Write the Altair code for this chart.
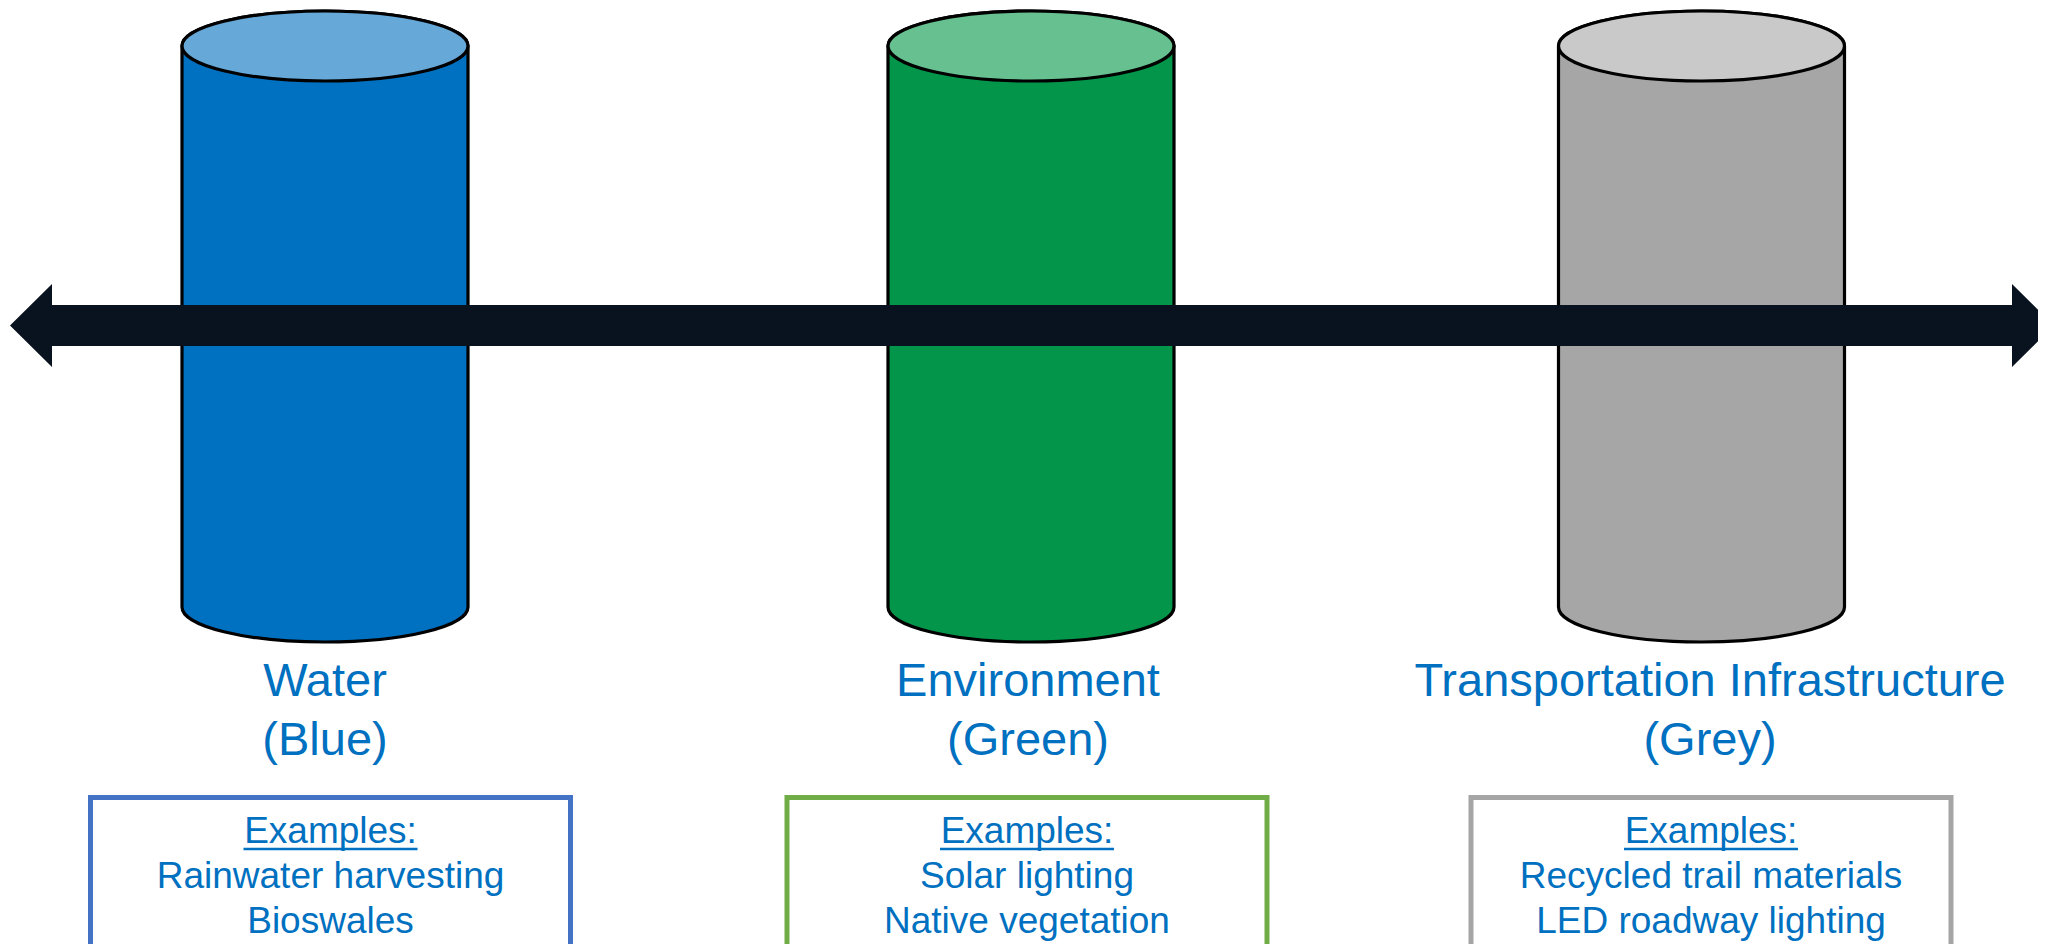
import altair as alt
import pandas as pd

# ---------------- content ----------------
categories = ["Water", "Environment", "Transportation Infrastructure"]
subtitles = ["(Blue)", "(Green)", "(Grey)"]
example_header = "Examples:"
examples_line1 = ["Rainwater harvesting", "Solar lighting", "Recycled trail materials"]
examples_line2 = ["Bioswales", "Native vegetation", "LED roadway lighting"]
body_colors = ["#0070C0", "#03964A", "#A6A6A6"]
top_colors = ["#66A8D8", "#66C08F", "#C9C9C9"]
border_colors = ["#4472C4", "#70AD47", "#A5A5A5"]
TEXT_COLOR = "#0070C0"
ARROW_COLOR = "#09131F"
FONT = "Liberation Sans"

# ---------------- layout (page pixel coordinates) ----------------
OX, OY = 8, 8
W, H = 2030, 936
cyl_x = [325, 1031, 1701.5]
label_x = [325, 1028, 1710]
box_x = [330.5, 1027, 1711]
CYL_TOP, CYL_BOT = 46, 607      # ellipse centre lines
CYL_RX, CYL_RY = 143, 35
ARROW_L, ARROW_R = 10, 2054
ARROW_Y, SHAFT_H, HEAD_H, HEAD_W = 325.5, 41, 83, 42
TITLE_Y1, TITLE_Y2 = 696, 755
BOX_HALF_W, BOX_TOP, BOX_BOTTOM = 240, 797.5, 1000
EX_Y = [843, 888, 933]
UNDERLINE_Y, UNDERLINE_HALF = 849, 87

xs = alt.Scale(domain=[OX, OX + W], nice=False, zero=False)
ys = alt.Scale(domain=[OY, OY + H], nice=False, zero=False, reverse=True)
X = lambda f: alt.X(f, type="quantitative", scale=xs, axis=None)
Y = lambda f: alt.Y(f, type="quantitative", scale=ys, axis=None)


def fmt(v):
    return f"{v:.5f}"


K = 0.5523


def ellipse(cx, cy, a, b):
    p = [
        f"M{fmt(cx-a)},{fmt(cy)}",
        f"C{fmt(cx-a)},{fmt(cy-K*b)} {fmt(cx-K*a)},{fmt(cy-b)} {fmt(cx)},{fmt(cy-b)}",
        f"C{fmt(cx+K*a)},{fmt(cy-b)} {fmt(cx+a)},{fmt(cy-K*b)} {fmt(cx+a)},{fmt(cy)}",
        f"C{fmt(cx+a)},{fmt(cy+K*b)} {fmt(cx+K*a)},{fmt(cy+b)} {fmt(cx)},{fmt(cy+b)}",
        f"C{fmt(cx-K*a)},{fmt(cy+b)} {fmt(cx-a)},{fmt(cy+K*b)} {fmt(cx-a)},{fmt(cy)} Z",
    ]
    return " ".join(p)


def body(a, hh, b):
    p = [
        f"M{fmt(-a)},{fmt(-hh)}",
        f"L{fmt(-a)},{fmt(hh)}",
        f"C{fmt(-a)},{fmt(hh+K*b)} {fmt(-K*a)},{fmt(hh+b)} 0,{fmt(hh+b)}",
        f"C{fmt(K*a)},{fmt(hh+b)} {fmt(a)},{fmt(hh+K*b)} {fmt(a)},{fmt(hh)}",
        f"L{fmt(a)},{fmt(-hh)}",
        f"C{fmt(a)},{fmt(-hh-K*b)} {fmt(K*a)},{fmt(-hh-b)} 0,{fmt(-hh-b)}",
        f"C{fmt(-K*a)},{fmt(-hh-b)} {fmt(-a)},{fmt(-hh-K*b)} {fmt(-a)},{fmt(-hh)} Z",
    ]
    return " ".join(p)


# cylinder symbol geometry (unit = S px)
S = 320.0
half_h = (CYL_BOT - CYL_TOP) / 2
cyl_cy = (CYL_BOT + CYL_TOP) / 2
body_path = body(CYL_RX / S, half_h / S, CYL_RY / S)
top_path = ellipse(0, -half_h / S, CYL_RX / S, CYL_RY / S)
cyl_size = (2 * S) ** 2

# arrow symbol geometry
SA = 1040.0
acx = (ARROW_L + ARROW_R) / 2
hl = (ARROW_R - ARROW_L) / 2
pts = [
    (-hl, 0), (-hl + HEAD_W, -HEAD_H / 2), (-hl + HEAD_W, -SHAFT_H / 2),
    (hl - HEAD_W, -SHAFT_H / 2), (hl - HEAD_W, -HEAD_H / 2), (hl, 0),
    (hl - HEAD_W, HEAD_H / 2), (hl - HEAD_W, SHAFT_H / 2),
    (-hl + HEAD_W, SHAFT_H / 2), (-hl + HEAD_W, HEAD_H / 2),
]
arrow_path = "M" + " L".join(f"{fmt(px/SA)},{fmt(py/SA)}" for px, py in pts) + " Z"
arrow_size = (2 * SA) ** 2

# ---------------- tables ----------------
cyl_df = pd.DataFrame({"cx": cyl_x, "cy": [cyl_cy] * 3, "body": body_colors, "top": top_colors})
arrow_df = pd.DataFrame({"cx": [acx], "cy": [ARROW_Y]})

title_rows = []
for i in range(3):
    title_rows.append({"x": label_x[i], "y": TITLE_Y1, "t": categories[i]})
    title_rows.append({"x": label_x[i], "y": TITLE_Y2, "t": subtitles[i]})
title_df = pd.DataFrame(title_rows)

box_df = pd.DataFrame({
    "x": [c - BOX_HALF_W for c in box_x],
    "x2": [c + BOX_HALF_W for c in box_x],
    "y": [BOX_TOP] * 3,
    "y2": [BOX_BOTTOM] * 3,
    "border": border_colors,
})

ex_rows = []
for i in range(3):
    for j, t in enumerate([example_header, examples_line1[i], examples_line2[i]]):
        ex_rows.append({"x": box_x[i], "y": EX_Y[j], "t": t})
ex_df = pd.DataFrame(ex_rows)

ul_df = pd.DataFrame({
    "x": [c - UNDERLINE_HALF for c in box_x],
    "x2": [c + UNDERLINE_HALF for c in box_x],
    "y": [UNDERLINE_Y] * 3,
})

# ---------------- layers ----------------
boxes = alt.Chart(box_df).mark_rect(fill="white", strokeWidth=5).encode(
    x=X("x"), x2="x2", y=Y("y"), y2="y2", stroke=alt.Stroke("border:N", scale=None)
)

bodies = alt.Chart(cyl_df).mark_point(
    shape=body_path, size=cyl_size, filled=True, opacity=1, stroke="black", strokeWidth=3.2
).encode(x=X("cx"), y=Y("cy"), fill=alt.Fill("body:N", scale=None))

tops = alt.Chart(cyl_df).mark_point(
    shape=top_path, size=cyl_size, filled=True, opacity=1, stroke="black", strokeWidth=3.2
).encode(x=X("cx"), y=Y("cy"), fill=alt.Fill("top:N", scale=None))

arrow = alt.Chart(arrow_df).mark_point(
    shape=arrow_path, size=arrow_size, filled=True, opacity=1, fill=ARROW_COLOR, strokeWidth=0
).encode(x=X("cx"), y=Y("cy"))

titles = alt.Chart(title_df).mark_text(
    align="center", baseline="alphabetic", font=FONT, fontSize=47, color=TEXT_COLOR
).encode(x=X("x"), y=Y("y"), text="t:N")

ex_text = alt.Chart(ex_df).mark_text(
    align="center", baseline="alphabetic", font=FONT, fontSize=37, color=TEXT_COLOR
).encode(x=X("x"), y=Y("y"), text="t:N")

underline = alt.Chart(ul_df).mark_rule(color=TEXT_COLOR, strokeWidth=2.5).encode(
    x=X("x"), x2="x2", y=Y("y")
)

chart = alt.layer(boxes, bodies, tops, arrow, titles, ex_text, underline).properties(
    width=W, height=H, padding=0, autosize=alt.AutoSizeParams(type="none")
).configure_view(stroke="transparent", strokeWidth=0)

chart.save("out.html", embed_options={"renderer": "svg", "actions": False})
